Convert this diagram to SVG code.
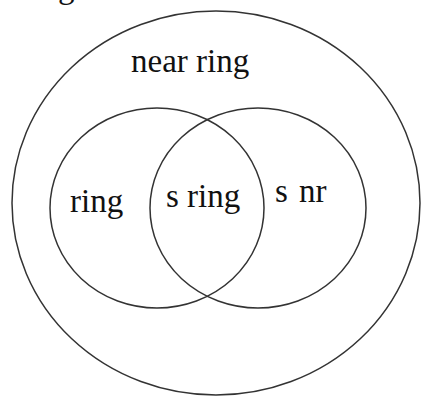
<svg xmlns="http://www.w3.org/2000/svg" width="422" height="396" viewBox="0 0 422 396">
<style>
.c{fill:none;stroke:#333;stroke-width:1.5}
.t{font-family:"Liberation Serif","Times New Roman",serif;font-size:33px;fill:#111}
</style>
<rect width="422" height="396" fill="#fff"/>
<text class="t" x="58" y="-2">g</text>
<g id="near-ring">
<ellipse class="c" cx="216" cy="203" rx="204" ry="192"/>
<text class="t" x="131" y="72">near ring</text>
</g>
<g id="ring">
<ellipse class="c" cx="157" cy="208" rx="107" ry="100"/>
<text class="t" x="70" y="212">ring</text>
</g>
<g id="snr">
<ellipse class="c" cx="258" cy="208" rx="108" ry="100"/>
<text class="t" x="275" y="202" word-spacing="3">s nr</text>
</g>
<g id="s-ring">
<text class="t" x="166" y="207">s ring</text>
</g>
<g id="connectors"></g>
</svg>
